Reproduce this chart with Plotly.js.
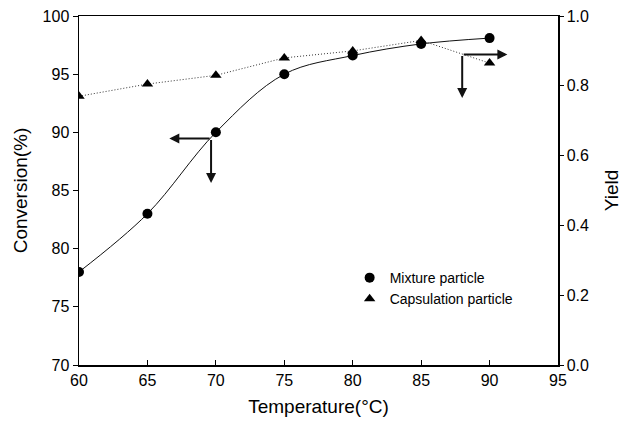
<!DOCTYPE html>
<html>
<head>
<meta charset="utf-8">
<script src="https://cdn.plot.ly/plotly-3.0.1.min.js"></script>
<style>html,body{margin:0;padding:0;background:#fff;}#chart{width:630px;height:421px;}</style>
</head>
<body>
<div id="chart"></div>
<script>
var temperature = [60, 65, 70, 75, 80, 85, 90];
var conversion = [78.0, 83.0, 90.0, 95.0, 96.6, 97.6, 98.1];
var yieldValues = [0.77, 0.805, 0.83, 0.88, 0.90, 0.93, 0.865];
var xTicks = [60, 65, 70, 75, 80, 85, 90, 95];
var convTicks = [70, 75, 80, 85, 90, 95, 100];
var yieldTicks = [0.0, 0.2, 0.4, 0.6, 0.8, 1.0];

// arrow guides: [tailX, tailY, headX, headY]
var arrowsConv = [[69.65, 89.48, 66.6, 89.48], [69.65, 89.48, 69.65, 85.65]];
var arrowsYield = [[88.0, 0.89, 91.3, 0.89], [88.0, 0.89, 88.0, 0.765]];

var FONT = 'Liberation Sans, Arial, sans-serif';

var traces = [
  {
    x: temperature, y: conversion, name: 'Mixture particle line', showlegend: false,
    type: 'scatter', mode: 'lines',
    line: {color: '#111', width: 1, shape: 'spline', smoothing: 1},
    yaxis: 'y'
  },
  {
    x: temperature, y: yieldValues, name: 'Capsulation particle line', showlegend: false,
    type: 'scatter', mode: 'lines',
    line: {color: '#333', width: 1, dash: '1px,2px'},
    yaxis: 'y2'
  },
  {
    x: temperature, y: conversion, name: 'Mixture particle',
    type: 'scatter', mode: 'markers',
    marker: {symbol: 'circle', size: 10, color: '#000'},
    yaxis: 'y'
  },
  {
    x: temperature, y: yieldValues, name: 'Capsulation particle',
    type: 'scatter', mode: 'markers',
    marker: {symbol: 'triangle-up', size: 10, color: '#000'},
    yaxis: 'y2'
  }
];

var annotations = [];
arrowsConv.forEach(function (a) {
  annotations.push({x: a[2], y: a[3], ax: a[0], ay: a[1], xref: 'x', yref: 'y', axref: 'x', ayref: 'y',
    text: '', showarrow: true, arrowhead: 2, arrowsize: 1, arrowwidth: 2, arrowcolor: '#111'});
});
arrowsYield.forEach(function (a) {
  annotations.push({x: a[2], y: a[3], ax: a[0], ay: a[1], xref: 'x', yref: 'y2', axref: 'x', ayref: 'y2',
    text: '', showarrow: true, arrowhead: 2, arrowsize: 1, arrowwidth: 2, arrowcolor: '#111'});
});

var layout = {
  width: 630, height: 421,
  margin: {l: 79, r: 72, t: 16, b: 56},
  paper_bgcolor: '#fff', plot_bgcolor: '#fff',
  font: {family: FONT, color: '#000', size: 16},
  showlegend: true,
  legend: {x: 0.565, y: 0.295, xanchor: 'left', yanchor: 'top', bgcolor: 'rgba(0,0,0,0)',
    font: {family: FONT, size: 14, color: '#000'}, tracegroupgap: 0, itemwidth: 30},
  xaxis: {
    range: [60, 95], tickvals: xTicks, ticktext: xTicks.map(String),
    ticks: 'inside', ticklen: 5, tickcolor: '#000', showline: true, linecolor: '#000', linewidth: 1.5,
    mirror: true, showgrid: false, zeroline: false,
    tickfont: {family: FONT, size: 16},
    title: {text: 'Temperature(°C)', font: {family: FONT, size: 19}, standoff: 12}
  },
  yaxis: {
    range: [70, 100], tickvals: convTicks, ticktext: convTicks.map(String),
    ticks: 'outside', ticklen: 5, tickcolor: '#000', showline: true, linecolor: '#000', linewidth: 1.5,
    showgrid: false, zeroline: false,
    tickfont: {family: FONT, size: 16},
    title: {text: 'Conversion(%)', font: {family: FONT, size: 19}, standoff: 10}
  },
  yaxis2: {
    range: [0, 1], overlaying: 'y', side: 'right', anchor: 'x',
    tickvals: yieldTicks, ticktext: yieldTicks.map(function (v) { return v.toFixed(1); }),
    ticks: 'outside', ticklen: 4, tickcolor: '#000', showline: true, linecolor: '#000', linewidth: 1.5,
    showgrid: false, zeroline: false,
    tickfont: {family: FONT, size: 16},
    title: {text: 'Yield', font: {family: FONT, size: 19}, standoff: 16}
  },
  annotations: annotations
};

Plotly.newPlot('chart', traces, layout, {displayModeBar: false, staticPlot: true});
</script>
</body>
</html>
